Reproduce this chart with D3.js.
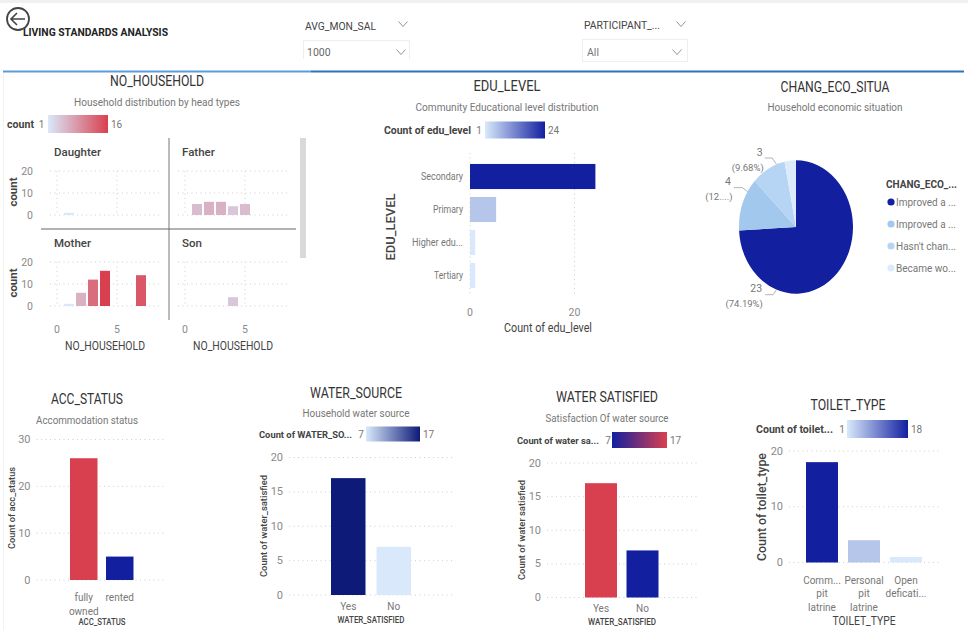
<!DOCTYPE html>
<html>
<head>
<meta charset="utf-8">
<script src="https://cdn.jsdelivr.net/npm/d3@7"></script>
<style>
html,body{margin:0;padding:0;background:#fff;overflow:hidden}
svg{display:block;font-family:Roboto,"Open Sans",sans-serif}
text{fill:#666}
.title{fill:#333;font-size:14.5px;text-anchor:middle}
.sub{fill:#777;font-size:11px;text-anchor:middle}
.tick-y,.tick-x{fill:#8a8a8a;font-size:10.5px}
.cat{fill:#777;font-size:9.5px;text-anchor:middle}
.axt{fill:#444;font-size:9px;text-anchor:middle}
.leg{fill:#444;font-size:10.5px;font-weight:700}
.legv{fill:#777;font-size:10px}
.grid{stroke:#cfcfcf;stroke-width:1;stroke-dasharray:1 3.5;fill:none}
</style>
</head>
<body>
<svg id="dash" width="968" height="630"></svg>
<script>
// Household head small multiples
const headTypes = ["Daughter", "Father", "Mother", "Son"];
const householdSizes = {
  Daughter: [1],
  Father: [1, 2, 3, 4, 5],
  Mother: [1, 2, 3, 4, 7],
  Son: [4]
};
const householdCounts = {
  Daughter: [1],
  Father: [5, 6, 6, 4, 5],
  Mother: [1, 6, 12, 16, 14],
  Son: [4]
};
// Education bars
const eduLevels = ["Secondary", "Primary", "Higher edu...", "Tertiary"];
const eduCounts = [24, 5, 1, 1];
// Economic situation pie
const ecoLegend = ["Improved a ...", "Improved a ...", "Hasn't chan...", "Became wo..."];
const ecoCounts = [23, 4, 3, 1];
const ecoLabels = [["23", "(74.19%)"], ["4", "(12....)"], ["3", "(9.68%)"], null];
// Column charts
const accCats = [["fully", "owned"], ["rented"]];
const accCounts = [26, 5];
const sourceCats = [["Yes"], ["No"]];
const sourceCounts = [17, 7];
const satisfiedCats = [["Yes"], ["No"]];
const satisfiedCounts = [17, 7];
const toiletCats = [["Comm...", "pit", "latrine"], ["Personal", "pit", "latrine"], ["Open", "deficati..."]];
const toiletCounts = [18, 4, 1];

const LIGHT = "#d9e9fb", NAVY = "#1220a0", DEEP = "#0d1a78", RED = "#d9404f";
const svg = d3.select("#dash");
const defs = svg.append("defs");
let gradId = 0;

// Text helper: "fit" squeezes the run to a given pixel width, the rest are CSS styles
function applyStyle(t, extra) {
  if (!extra) return t;
  Object.entries(extra).forEach(([k, v]) => {
    if (k === "fit") t.attr("textLength", v).attr("lengthAdjust", "spacingAndGlyphs");
    else t.style(k, v);
  });
  return t;
}
function label(x, y, str, cls, extra) {
  const t = svg.append("text").attr("x", x).attr("y", y).attr("class", cls)
    .attr("dominant-baseline", "central").text(str);
  return applyStyle(t, extra);
}
function vLabel(x, y, str, cls, extra) {
  const t = svg.append("text").attr("transform", `translate(${x},${y}) rotate(-90)`)
    .attr("class", cls).attr("dominant-baseline", "central").text(str);
  return applyStyle(t, extra);
}
function chevron(x, y) {
  svg.append("path").attr("d", d3.line()([[x - 4.5, y - 2.5], [x, y + 2.5], [x + 4.5, y - 2.5]]))
    .attr("fill", "none").attr("stroke", "#888").attr("stroke-width", 0.9);
}
// Colour-scale legend: caption, min value, gradient swatch, max value
function gradientLegend(o) {
  const id = "grad" + (gradId++);
  const g = defs.append("linearGradient").attr("id", id);
  g.append("stop").attr("offset", "0%").attr("stop-color", o.from);
  g.append("stop").attr("offset", "100%").attr("stop-color", o.to);
  label(o.textX, o.y, o.caption, "leg", {fit: o.capW, "font-size": (o.capSize || 10.5) + "px"});
  label(o.minX, o.y, o.min, "legv", {"text-anchor": "middle"});
  svg.append("rect").attr("x", o.x).attr("y", o.y - o.h / 2).attr("width", o.w).attr("height", o.h)
    .attr("fill", `url(#${id})`);
  label(o.x + o.w + 3, o.y, o.max, "legv");
}

// Header band
svg.append("rect").attr("x", 0).attr("y", 0).attr("width", 968).attr("height", 3).attr("fill", "#f0f0f0");
svg.append("line").attr("x1", 3.5).attr("x2", 3.5).attr("y1", 72).attr("y2", 630).attr("stroke", "#f2f2f2");
label(23, 32, "LIVING STANDARDS ANALYSIS", "", {"font-size": "10.5px", "font-weight": 700, fill: "#222", fit: 145});
svg.append("circle").attr("cx", 18).attr("cy", 19).attr("r", 11).attr("fill", "none").attr("stroke", "#444").attr("stroke-width", 1.8);
svg.append("path").attr("d", "M11 19H25M17 13L11 19L17 25").attr("fill", "none").attr("stroke", "#444").attr("stroke-width", 1.6);

label(305, 26, "AVG_MON_SAL", "", {"font-size": "11.5px", fill: "#444", fit: 71});
chevron(403, 24);
svg.append("path").attr("d", "M303.5 59V40.5H409.5V59").attr("fill", "none").attr("stroke", "#eee");
label(307, 52, "1000", "", {"font-size": "10.5px", fill: "#666"});
chevron(401, 52);
label(584, 25, "PARTICIPANT_...", "", {"font-size": "11.5px", fill: "#444", fit: 76});
chevron(681, 24);
svg.append("rect").attr("x", 582.5).attr("y", 39.5).attr("width", 105).attr("height", 22).attr("fill", "none").attr("stroke", "#eee");
label(587, 52, "All", "", {"font-size": "10.5px", fill: "#777"});
chevron(677, 52);
svg.append("line").attr("x1", 3).attr("x2", 311).attr("y1", 71.5).attr("y2", 71.5).attr("stroke", "#5a9bd8").attr("stroke-width", 1.8);
svg.append("line").attr("x1", 311).attr("x2", 964).attr("y1", 71.5).attr("y2", 71.5).attr("stroke", "#2f72b8").attr("stroke-width", 1.8);

// NO_HOUSEHOLD: four panels sharing a colour scale
label(157, 81, "NO_HOUSEHOLD", "title", {fit: 94});
label(157, 102, "Household distribution by head types", "sub", {fit: 166});
gradientLegend({textX: 7, y: 124, caption: "count", capW: 27, minX: 41.5, min: "1", x: 48, w: 60, h: 18, max: "16", from: LIGHT, to: RED});
const householdColor = d3.scaleLinear().domain([1, 16]).range([LIGHT, RED]);
const panelPos = {
  Daughter: {x0: 57, gx: [50, 160], y20: 171, y0: 215},
  Father: {x0: 185, gx: [178, 288], y20: 171, y0: 215},
  Mother: {x0: 57, gx: [50, 160], y20: 262, y0: 306},
  Son: {x0: 185, gx: [178, 288], y20: 262, y0: 306}
};
headTypes.forEach(h => {
  const p = panelPos[h];
  const x = d3.scaleLinear().domain([0, 5]).range([p.x0, p.x0 + 60]);
  const y = d3.scaleLinear().domain([0, 20]).range([p.y0, p.y20]);
  label(p.x0 - 3, p.y20 - 19, h, "", {"font-size": "11.5px", "font-weight": 500, fill: "#444"});
  [0, 10, 20].forEach(v => {
    svg.append("line").attr("class", "grid").attr("x1", p.gx[0]).attr("x2", p.gx[1]).attr("y1", y(v)).attr("y2", y(v));
    if (p.x0 === 57) label(33, y(v), v, "tick-y", {"text-anchor": "end"});
  });
  [0, 5].forEach(v => {
    svg.append("line").attr("class", "grid").attr("x1", x(v)).attr("x2", x(v)).attr("y1", y(20)).attr("y2", y(0));
  });
  svg.append("g").selectAll("rect").data(householdSizes[h]).join("rect")
    .attr("x", d => x(d) - 5).attr("width", 10)
    .attr("y", (d, i) => y(householdCounts[h][i]))
    .attr("height", (d, i) => y(0) - y(householdCounts[h][i]))
    .attr("fill", (d, i) => householdColor(householdCounts[h][i]));
  if (p.y0 === 306) {
    [0, 5].forEach(v => label(x(v), 329, v, "tick-x", {"text-anchor": "middle"}));
    label(p.x0 + 48, 346, "NO_HOUSEHOLD", "axt", {"font-size": "12px", fit: 80});
  }
  if (p.x0 === 57) vLabel(13, (y(0) + y(20)) / 2 - 1, "count", "axt", {"font-size": "11.5px", "font-weight": 700, fit: 29});
});
svg.append("line").attr("x1", 169).attr("x2", 169).attr("y1", 138).attr("y2", 320).attr("stroke", "#777");
svg.append("line").attr("x1", 41).attr("x2", 296).attr("y1", 229).attr("y2", 229).attr("stroke", "#666");
svg.append("rect").attr("x", 300).attr("y", 138).attr("width", 6).attr("height", 120).attr("fill", "#d9d9d9");

// EDU_LEVEL horizontal bars
label(507, 86, "EDU_LEVEL", "title", {fit: 67});
label(507, 107, "Community Educational level distribution", "sub", {fit: 183});
gradientLegend({textX: 384, y: 130, caption: "Count of edu_level", capW: 87, minX: 479, min: "1", x: 485, w: 60, h: 17, max: "24", from: LIGHT, to: NAVY});
{
  const x = d3.scaleLinear().domain([0, 20]).range([470, 574.5]);
  const y = d3.scaleBand().domain(eduLevels).range([160, 292]).paddingInner(0.24).paddingOuter(0.12);
  const color = d3.scaleLinear().domain([1, 24]).range([LIGHT, NAVY]);
  const catW = [42, 30, 51, 29];
  x.ticks(1).forEach(v => {
    svg.append("line").attr("class", "grid").attr("x1", x(v)).attr("x2", x(v)).attr("y1", 153).attr("y2", 294);
    label(x(v), 312, v, "tick-x", {"text-anchor": "middle"});
  });
  svg.append("g").selectAll("rect").data(eduLevels).join("rect")
    .attr("x", x(0)).attr("y", d => y(d)).attr("height", y.bandwidth())
    .attr("width", (d, i) => x(eduCounts[i]) - x(0))
    .attr("fill", (d, i) => color(eduCounts[i]));
  eduLevels.forEach((d, i) => label(463, y(d) + y.bandwidth() / 2, d, "cat", {"text-anchor": "end", "font-size": "10.5px", fit: catW[i]}));
  label(548, 328, "Count of edu_level", "axt", {"font-size": "12px", fit: 88});
  vLabel(390, 227, "EDU_LEVEL", "axt", {"font-size": "12.5px", "font-weight": 500, fit: 67});
}

// CHANG_ECO_SITUA pie, squeezed horizontally
label(835, 87, "CHANG_ECO_SITUA", "title", {fit: 109});
label(835, 107, "Household economic situation", "sub", {fit: 135});
{
  const cx = 796, cy = 227, r = 66.7, sx = 57 / 66.7;
  const ecoColors = [NAVY, "#a3c8ee", "#b6d4f3", "#dcebfb"];
  const arcs = d3.pie().sort(null)(ecoCounts);
  const arc = d3.arc().innerRadius(0).outerRadius(r);
  svg.append("g").attr("transform", `translate(${cx},${cy}) scale(${sx},1)`)
    .selectAll("path").data(arcs).join("path")
    .attr("d", arc).attr("fill", (d, i) => ecoColors[i]);
  // Outside labels with elbow leaders, placed where the rim has room
  const place = [
    {deg: 200, dx: -3.3, dy: 5, run: 8, count: -9, pct: -21, pctDy: 8.5},
    {deg: 302, dx: -5.3, dy: -4, run: 8.5, count: -6, pct: -15, pctDy: 9},
    {deg: 340, dx: -4.3, dy: -6.3, run: 7.5, count: -5, pct: -17, pctDy: 9}
  ];
  place.forEach((p, i) => {
    const a = p.deg * Math.PI / 180;
    const px = cx + Math.sin(a) * r * sx, py = cy - Math.cos(a) * r;
    const ex = px + p.dx, ey = py + p.dy, lx = ex - p.run;
    svg.append("path").attr("d", d3.line()([[px, py], [ex, ey], [lx, ey]]))
      .attr("fill", "none").attr("stroke", "#aaa").attr("stroke-width", 0.9);
    label(lx + p.count, ey - 6, ecoLabels[i][0], "legv", {"text-anchor": "middle", "font-size": "10.5px"});
    label(lx + p.pct, ey + p.pctDy, ecoLabels[i][1], "legv", {"text-anchor": "middle", "font-size": "9.5px"});
  });
  label(886, 184, "CHANG_ECO_...", "", {"font-size": "10.5px", "font-weight": 700, fill: "#444", fit: 71});
  ecoLegend.forEach((t, i) => {
    svg.append("circle").attr("cx", 891).attr("cy", 202 + i * 22).attr("r", 3.6).attr("fill", ecoColors[i]);
    label(896, 202 + i * 22, t, "", {"font-size": "10.5px", fill: "#777", fit: 60});
  });
}

// Shared vertical column chart
function columns(o) {
  const y = d3.scaleLinear().domain([0, o.max]).range([o.y0, o.yTop]);
  const step = o.barW + o.gap;
  const x = d3.scaleBand().domain(o.cats.map((c, i) => i))
    .range([o.x0, o.x0 + step * o.cats.length - o.gap]).paddingInner(o.gap / step).paddingOuter(0);
  o.ticks.forEach(v => {
    svg.append("line").attr("class", "grid").attr("x1", o.gx[0]).attr("x2", o.gx[1]).attr("y1", y(v)).attr("y2", y(v));
    label(o.gx[0] - 6, y(v), v, "tick-y", {"text-anchor": "end", "font-size": "11px"});
  });
  svg.append("g").selectAll("rect").data(o.vals).join("rect")
    .attr("x", (d, i) => x(i)).attr("width", x.bandwidth())
    .attr("y", d => y(d)).attr("height", d => y(0) - y(d))
    .attr("fill", o.color);
  o.cats.forEach((lines, i) => lines.forEach((s, k) =>
    label(x(i) + x.bandwidth() / 2, o.catY + k * o.catStep, s, "cat", {"font-size": "10px"})));
}

// ACC_STATUS
label(87, 399, "ACC_STATUS", "title", {fit: 72});
label(87, 420, "Accommodation status", "sub", {fit: 102});
columns({cats: accCats, vals: accCounts, max: 30, ticks: [0, 10, 20, 30], y0: 580, yTop: 439.5, x0: 70, barW: 27.5, gap: 8.5,
  gx: [36.5, 166], color: d => d > 10 ? RED : NAVY, catY: 597, catStep: 14});
label(102, 622, "ACC_STATUS", "axt", {"font-size": "8.5px", "font-weight": 500, fit: 47});
vLabel(12, 508, "Count of acc_status", "axt", {"font-size": "9px", "font-weight": 500, fit: 82});

// WATER_SOURCE
label(356, 393, "WATER_SOURCE", "title", {fit: 92});
label(356, 413, "Household water source", "sub", {fit: 107});
gradientLegend({textX: 259, y: 434, caption: "Count of WATER_SO...", capW: 93, capSize: 9.4, minX: 361, min: "7", x: 366, w: 54, h: 15, max: "17", from: LIGHT, to: DEEP});
{
  const c = d3.scaleLinear().domain([7, 17]).range([LIGHT, DEEP]);
  columns({cats: sourceCats, vals: sourceCounts, max: 20, ticks: [0, 5, 10, 15, 20], y0: 595, yTop: 457.5, x0: 331, barW: 34.5, gap: 11,
    gx: [289, 453], color: d => c(d), catY: 606, catStep: 14});
}
label(371, 620, "WATER_SATISFIED", "axt", {"font-size": "9px", "font-weight": 500, fit: 67});
vLabel(263, 526, "Count of water_satisfied", "axt", {"font-size": "9.5px", "font-weight": 500, fit: 102});

// WATER SATISFIED
label(607, 397, "WATER SATISFIED", "title", {fit: 102});
label(607, 418, "Satisfaction Of water source", "sub", {fit: 123});
gradientLegend({textX: 517, y: 440, caption: "Count of water sa...", capW: 82, capSize: 9.4, minX: 608, min: "7", x: 612, w: 55, h: 16, max: "17", from: NAVY, to: RED});
{
  const c = d3.scaleLinear().domain([7, 17]).range([NAVY, RED]);
  columns({cats: satisfiedCats, vals: satisfiedCounts, max: 20, ticks: [0, 5, 10, 15, 20], y0: 597.5, yTop: 463, x0: 585, barW: 32, gap: 9.5,
    gx: [547, 698], color: d => c(d), catY: 608, catStep: 14});
}
label(622, 621.5, "WATER_SATISFIED", "axt", {"font-size": "9px", "font-weight": 500, fit: 68});
vLabel(521, 530, "Count of water satisfied", "axt", {"font-size": "9.5px", "font-weight": 500, fit: 100});

// TOILET_TYPE
label(848, 405, "TOILET_TYPE", "title", {fit: 75});
gradientLegend({textX: 756, y: 429, caption: "Count of toilet...", capW: 77, minX: 842, min: "1", x: 847, w: 61, h: 18, max: "18", from: LIGHT, to: NAVY});
{
  const c = d3.scaleLinear().domain([1, 18]).range([LIGHT, NAVY]);
  columns({cats: toiletCats, vals: toiletCounts, max: 20, ticks: [0, 10, 20], y0: 562.5, yTop: 451, x0: 806, barW: 32, gap: 10,
    gx: [789, 940], color: d => c(d), catY: 580, catStep: 13.7});
}
label(864, 621, "TOILET_TYPE", "axt", {"font-size": "12px", fit: 63});
vLabel(762, 507, "Count of toilet_type", "axt", {"font-size": "12px", "font-weight": 500, fit: 108});
</script>
</body>
</html>
